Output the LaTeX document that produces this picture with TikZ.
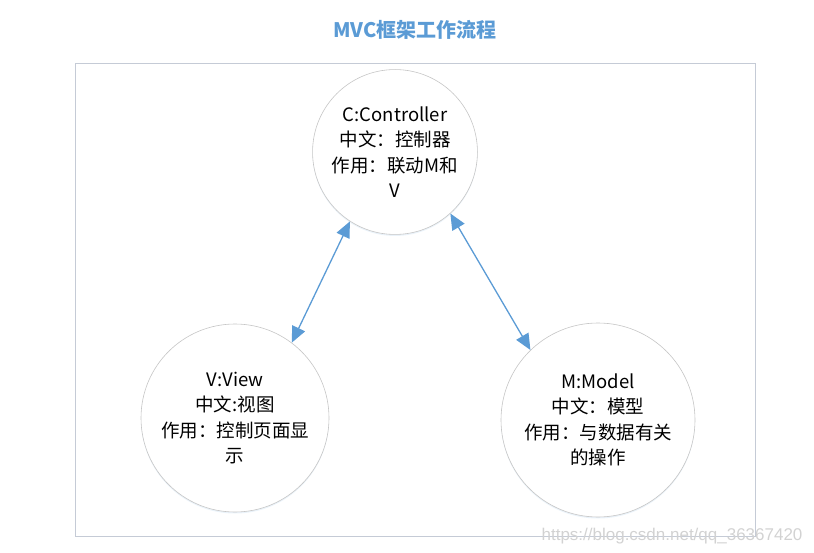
\documentclass[tikz,border=0pt]{standalone}
\usepackage{fontspec}
\setmainfont{Noto Sans CJK SC}
\newfontfamily\markfont{Liberation Sans}
\usepackage{tikz}
\usetikzlibrary{arrows.meta,shadows}
\definecolor{mvcblue}{HTML}{5B9BD5}
\definecolor{framegray}{HTML}{C5CBD6}
\tikzset{
  part/.style={circle,draw=gray!45,fill=white,line width=0.6pt,align=center,
    font=\fontsize{18.5}{25.5}\selectfont,
    drop shadow={shadow xshift=0pt,shadow yshift=-1.5pt,fill=mvcblue!25,opacity=0.5}},
  link/.style={arrows={Triangle[length=16pt,width=14pt]-Triangle[length=16pt,width=14pt]},
    draw=mvcblue,line width=1.3pt}
}
\begin{document}
\begin{tikzpicture}[x=1pt,y=-1pt]
    \useasboundingbox (0,0) rectangle (814,553);
    \node[font=\fontsize{20}{22}\selectfont\bfseries,text=mvcblue] (title) at (415,30) {MVC框架工作流程};
    \draw[framegray,line width=0.8pt] (75,63) rectangle (755,536);
    \node[part,minimum size=162pt] (ctrl) at (395,152) {C:Controller\\中文：控制器\\作用：联动M和\\V};
    \node[part,minimum size=188pt] (view) at (235,418) {V:View\\中文:视图\\作用：控制页面显\\示};
    \node[part,minimum size=194pt] (model) at (598,420) {M:Model\\中文：模型\\作用：与数据有关\\的操作};
    \draw[link] (ctrl.237) -- (view.53);
    \draw[link] (ctrl.312) -- (model.134);
    \node[font=\fontsize{17}{19}\markfont,text=gray!35,anchor=east] (mark) at (806,536) {https://blog.csdn.net/qq\_36367420};
\end{tikzpicture}
\end{document}
